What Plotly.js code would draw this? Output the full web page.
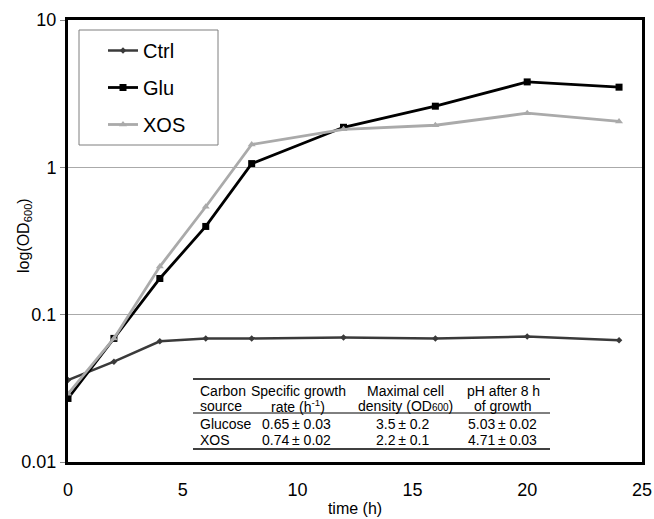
<!DOCTYPE html>
<html>
<head>
<meta charset="utf-8">
<script src="https://cdn.plot.ly/plotly-3.0.1.min.js"></script>
<style>html,body{margin:0;padding:0;background:#fff}</style>
</head>
<body>
<div id="chart" style="width:654px;height:519px"></div>
<script>
// ---- data ----
var time = [0, 2, 4, 6, 8, 12, 16, 20, 24];
var ctrl = [0.036, 0.048, 0.066, 0.069, 0.069, 0.070, 0.069, 0.071, 0.067];
var glu  = [0.027, 0.069, 0.176, 0.397, 1.06, 1.87, 2.6, 3.8, 3.5];
var xos  = [0.029, 0.069, 0.212, 0.54, 1.43, 1.81, 1.93, 2.33, 2.05];
var seriesNames = ['Ctrl', 'Glu', 'XOS'];
var xTicks = [0, 5, 10, 15, 20, 25];
var yTicks = [0.01, 0.1, 1, 10];
var yTickText = ['0.01', '0.1', '1', '10'];
var xTitle = 'time (h)';
var yTitle = 'log(OD<sub>600</sub>)';

var tableHeader1 = ['Carbon', 'Specific growth', 'Maximal cell', 'pH after 8 h'];
var tableHeader2 = ['source', 'rate (h<sup>-1</sup>)', 'density (OD<span style="font-size:10px">600</span>)', 'of growth'];
var tableSources = ['Glucose', 'XOS'];
var tableRate = ['0.65\u2009\u00b1 0.03', '0.74\u2009\u00b1 0.02'];
var tableDensity = ['3.5\u2009\u00b1 0.2', '2.2\u2009\u00b1 0.1'];
var tablePH = ['5.03\u2009\u00b1 0.02', '4.71\u2009\u00b1 0.03'];

// ---- layout helpers ----
var W = 654, H = 519;
var M = {l: 68, r: 12, t: 20, b: 57};
var PW = W - M.l - M.r, PH = H - M.t - M.b;
function px(x) { return (x - M.l) / PW; }
function py(y) { return (M.t + PH - y) / PH; }

var FONT = 'Liberation Sans, Arial, sans-serif';

var traces = [
  {x: time, y: ctrl, name: seriesNames[0], mode: 'lines+markers', legendgroup: 'a',
   line: {color: '#3a3a3a', width: 2.5}, marker: {symbol: 'diamond', size: 5, color: '#3a3a3a'}},
  {x: time, y: glu, name: seriesNames[1], mode: 'lines+markers', legendgroup: 'b',
   line: {color: '#000000', width: 2.8}, marker: {symbol: 'square', size: 7, color: '#000000'}},
  {x: time, y: xos, name: seriesNames[2], mode: 'lines+markers', legendgroup: 'c',
   line: {color: '#aaaaaa', width: 2.8}, marker: {symbol: 'triangle-up', size: 7, color: '#aaaaaa'}}
];

var shapes = [];
// legend box
shapes.push({type: 'rect', xref: 'paper', yref: 'paper', x0: px(79), x1: px(218), y0: py(30), y1: py(145),
  line: {color: '#7f7f7f', width: 1}, fillcolor: 'rgba(0,0,0,0)'});
// tick marks on the axis line at y = 1
xTicks.slice(1, xTicks.length - 1).forEach(function (t) {
  shapes.push({type: 'line', xref: 'x', yref: 'y', ysizemode: 'pixel', yanchor: 1,
    x0: t, x1: t, y0: 0, y1: -5, line: {color: '#999999', width: 1.2}});
});
// table rules
shapes.push({type: 'line', xref: 'paper', yref: 'paper', x0: px(193), x1: px(550), y0: py(379), y1: py(379), line: {color: '#000', width: 1.5}});
shapes.push({type: 'line', xref: 'paper', yref: 'paper', x0: px(193), x1: px(550), y0: py(413), y1: py(413), line: {color: '#000', width: 1}});
shapes.push({type: 'line', xref: 'paper', yref: 'paper', x0: px(193), x1: px(550), y0: py(449), y1: py(449), line: {color: '#000', width: 1.5}});

var annotations = [];
function addText(text, x, y, anchor) {
  annotations.push({text: text, xref: 'paper', yref: 'paper', x: px(x), y: py(y),
    xanchor: anchor, yanchor: 'middle', showarrow: false,
    font: {family: FONT, size: 14, color: '#000'}});
}
var colX = [198, 298, 405, 503];
addText(tableHeader1[0], colX[0], 391, 'left');
addText(tableHeader2[0], colX[0], 406, 'left');
for (var i = 1; i < 4; i++) {
  addText(tableHeader1[i], colX[i], 391, 'center');
  addText(tableHeader2[i], colX[i], 406, 'center');
}
var rowY = [424, 440];
for (var r = 0; r < tableSources.length; r++) {
  addText(tableSources[r], colX[0], rowY[r], 'left');
  addText(tableRate[r], 296, rowY[r], 'center');
  addText(tableDensity[r], 403, rowY[r], 'center');
  addText(tablePH[r], 502, rowY[r], 'center');
}
// y-axis title, placed as in the reference
annotations.push({text: yTitle, xref: 'paper', yref: 'paper', x: px(24), y: py(236),
  xanchor: 'center', yanchor: 'middle', textangle: -90, showarrow: false,
  font: {family: FONT, size: 16, color: '#000'}});

var layout = {
  width: W, height: H,
  margin: M,
  paper_bgcolor: '#fff', plot_bgcolor: '#fff',
  font: {family: FONT, color: '#000'},
  showlegend: true,
  legend: {x: px(103), y: py(31), xanchor: 'left', yanchor: 'top',
    bgcolor: 'rgba(0,0,0,0)', borderwidth: 0, tracegroupgap: 8, traceorder: 'grouped',
    font: {family: FONT, size: 20, color: '#000'}},
  xaxis: {range: [0, 25], tickvals: xTicks, ticks: '', showgrid: false, zeroline: false,
    showline: true, mirror: true, linecolor: '#000', linewidth: 3,
    ticklabelstandoff: 9,
    tickfont: {family: FONT, size: 18, color: '#000'},
    title: {text: xTitle, font: {family: FONT, size: 16, color: '#000'}, standoff: 5}},
  yaxis: {type: 'log', range: [-2, 1], tickvals: yTicks, ticktext: yTickText,
    ticks: 'outside', ticklen: 5, tickcolor: '#888', tickwidth: 1,
    showgrid: true, gridcolor: '#aaaaaa', gridwidth: 1.5, zeroline: false,
    showline: true, mirror: true, linecolor: '#000', linewidth: 3,
    tickfont: {family: FONT, size: 18, color: '#000'}},
  shapes: shapes,
  annotations: annotations
};

Plotly.newPlot('chart', traces, layout, {displayModeBar: false, staticPlot: true});
</script>
</body>
</html>
